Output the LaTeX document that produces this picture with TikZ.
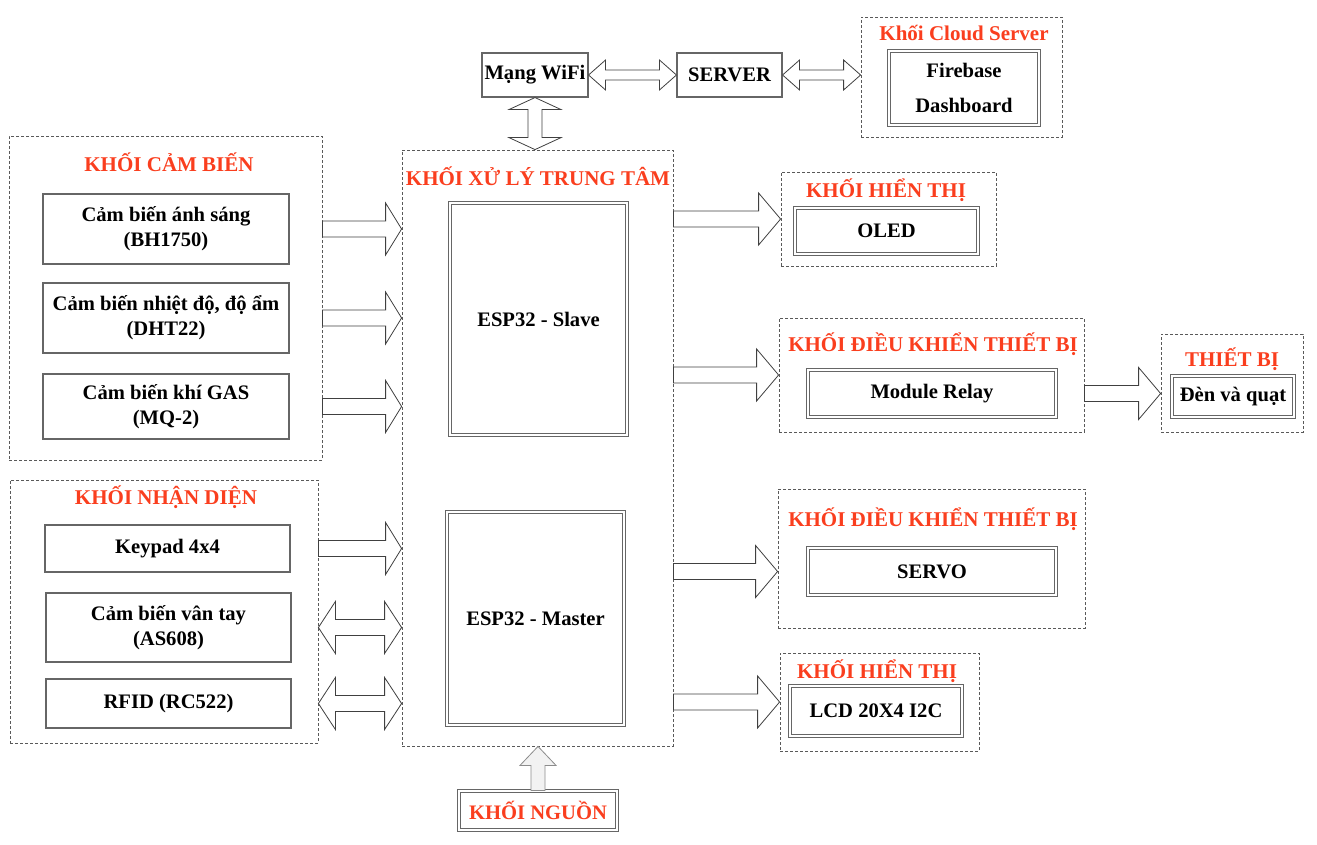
\documentclass[tikz,border=0pt]{standalone}
\usepackage{fontspec}
\setmainfont{Liberation Serif}
\usetikzlibrary{positioning,calc}
\definecolor{titlered}{RGB}{250,62,30}
\tikzset{block/.style={draw=black!65,dash pattern=on 3pt off 2pt,line width=0.8pt,inner sep=0pt}}
\tikzset{title/.style={text=titlered,font=\bfseries\fontsize{21}{25}\selectfont,inner sep=0pt}}
\tikzset{basic/.style={draw=black!60,line width=1.1pt,fill=white,inner sep=0pt,align=center,font=\bfseries\fontsize{20.6}{25}\selectfont}}
\tikzset{framed/.style={basic,draw=black!60,double,double distance=1.5pt,line width=1pt}}
\tikzset{fat/.style={draw=black!75,fill=white,line width=0.8pt}}
\tikzset{supply/.style={draw=black!45,fill=black!5,line width=0.8pt}}

% block arrows, #1 = head length
\newcommand{\fatarrow}[3][16pt]{\draw[fat] let \p1=#2, \p2=#3 in
  (\x1,\y1+8pt) -- (\x2-#1,\y1+8pt) -- (\x2-#1,\y1+26pt) -- (\x2,\y1)
  -- (\x2-#1,\y1-26pt) -- (\x2-#1,\y1-8pt) -- (\x1,\y1-8pt) -- cycle;}
% #1 head length, #2 head half width, #3 shaft half width
\newcommand{\fatboth}[5]{\draw[fat] let \p1=#4, \p2=#5 in
  (\x1,\y1) -- (\x1+#1,\y1+#2) -- (\x1+#1,\y1+#3) -- (\x2-#1,\y1+#3) -- (\x2-#1,\y1+#2) -- (\x2,\y1)
  -- (\x2-#1,\y1-#2) -- (\x2-#1,\y1-#3) -- (\x1+#1,\y1-#3) -- (\x1+#1,\y1-#2) -- cycle;}
\newcommand{\fatbothv}[5]{\draw[fat] let \p1=#4, \p2=#5 in
  (\x1,\y1) -- (\x1+#2,\y1-#1) -- (\x1+#3,\y1-#1) -- (\x1+#3,\y2+#1) -- (\x1+#2,\y2+#1) -- (\x1,\y2)
  -- (\x1-#2,\y2+#1) -- (\x1-#3,\y2+#1) -- (\x1-#3,\y1-#1) -- (\x1-#2,\y1-#1) -- cycle;}
\newcommand{\fatup}[2]{\draw[supply] let \p1=#1, \p2=#2 in
  (\x1-7pt,\y1) -- (\x1-7pt,\y2-19pt) -- (\x1-18pt,\y2-19pt) -- (\x1,\y2)
  -- (\x1+18pt,\y2-19pt) -- (\x1+7pt,\y2-19pt) -- (\x1+7pt,\y1) -- cycle;}

\begin{document}
\begin{tikzpicture}[x=1pt,y=-1pt]
    \useasboundingbox (0,0) rectangle (1317,845);
    % khoi cam bien
    \node[block,minimum width=313pt,minimum height=324pt] (sensors) at (165.5,298) {};
    \node[title] (sensorstitle) at (169,162) {KHỐI CẢM BIẾN};
    \node[basic,minimum width=246pt,minimum height=70pt] (bh) at (166,229) {Cảm biến ánh sáng\\(BH1750)};
    \node[basic,minimum width=246pt,minimum height=70pt] (dht) at (166,318) {Cảm biến nhiệt độ, độ ẩm\\(DHT22)};
    \node[basic,minimum width=246pt,minimum height=65pt] (mq) at (166,406.5) {Cảm biến khí GAS\\(MQ-2)};
    % khoi nhan dien
    \node[block,minimum width=308pt,minimum height=263pt] (ident) at (164,611.5) {};
    \node[title] (identtitle) at (166,497) {KHỐI NHẬN DIỆN};
    \node[basic,minimum width=245pt,minimum height=47pt] (keypad) at (167.5,548.5) {Keypad 4x4};
    \node[basic,minimum width=245pt,minimum height=69pt] (finger) at (168.5,627.5) {Cảm biến vân tay\\(AS608)};
    \node[basic,minimum width=245pt,minimum height=49pt] (rfid) at (168.5,703.5) {RFID (RC522)};
    % khoi xu ly
    \node[block,minimum width=271pt,minimum height=596pt] (central) at (537.5,448) {};
    \node[title] (centraltitle) at (538,176) {KHỐI XỬ LÝ TRUNG TÂM};
    \node[framed,minimum width=177pt,minimum height=232pt] (slave) at (538.5,319) {ESP32 - Slave};
    \node[framed,minimum width=177pt,minimum height=213pt] (master) at (535.5,618.5) {ESP32 - Master};
    % mang va server
    \node[basic,minimum width=106pt,minimum height=44pt] (wifi) at (535,75) {Mạng WiFi};
    \node[basic,minimum width=105pt,minimum height=44pt] (server) at (729.5,75) {SERVER};
    \node[block,minimum width=201pt,minimum height=120pt] (cloud) at (961.5,77) {};
    \node[title] (cloudtitle) at (964,33) {Khối Cloud Server};
    \node[framed,minimum width=150pt,minimum height=74pt,font=\bfseries\fontsize{20.6}{35}\selectfont] (firebase) at (964,88) {Firebase\\Dashboard};
    % khoi hien thi, dieu khien
    \node[block,minimum width=215pt,minimum height=94pt] (oledblk) at (888.5,219) {};
    \node[title] (oledtitle) at (886,190) {KHỐI HIỂN THỊ};
    \node[framed,minimum width=183pt,minimum height=46pt] (oled) at (886.5,231) {OLED};
    \node[block,minimum width=305pt,minimum height=114pt] (relayblk) at (931.5,375) {};
    \node[title] (relaytitle) at (933,344) {KHỐI ĐIỀU KHIỂN THIẾT BỊ};
    \node[framed,minimum width=248pt,minimum height=47pt] (relay) at (932,393.5) {Module Relay};
    \node[block,minimum width=142pt,minimum height=98pt] (devblk) at (1232,383) {};
    \node[title] (devtitle) at (1232,359) {THIẾT BỊ};
    \node[framed,minimum width=122pt,minimum height=41pt] (dev) at (1233,396.5) {Đèn và quạt};
    \node[block,minimum width=307pt,minimum height=139pt] (servoblk) at (931.5,558.5) {};
    \node[title] (servotitle) at (933,519) {KHỐI ĐIỀU KHIỂN THIẾT BỊ};
    \node[framed,minimum width=248pt,minimum height=47pt] (servo) at (932,571.5) {SERVO};
    \node[block,minimum width=199pt,minimum height=98pt] (lcdblk) at (879.5,702) {};
    \node[title] (lcdtitle) at (877,671) {KHỐI HIỂN THỊ};
    \node[framed,minimum width=172pt,minimum height=50pt] (lcd) at (876,711) {LCD 20X4 I2C};
    % khoi nguon
    \node[framed,minimum width=158pt,minimum height=39pt,text=titlered] (power) at (538,810.5) {KHỐI NGUỒN};
    % inputs
    \fatarrow{(sensors.east |- bh)}{(central.west |- bh)}
    \fatarrow{(sensors.east |- dht)}{(central.west |- dht)}
    \fatarrow{(sensors.east |- mq)}{(central.west |- mq)}
    \fatarrow{(ident.east |- keypad)}{(central.west |- keypad)}
    \fatboth{17pt}{26pt}{8pt}{(ident.east |- finger)}{(central.west |- finger)}
    \fatboth{17pt}{26pt}{8pt}{(ident.east |- rfid)}{(central.west |- rfid)}
    % outputs
    \fatarrow[22pt]{(central.east |- oledblk)}{(oledblk.west)}
    \fatarrow[22pt]{(central.east |- relayblk)}{(relayblk.west)}
    \fatarrow[22pt]{(relayblk.east |- relay)}{(devblk.west |- relay)}
    \fatarrow[22pt]{(central.east |- servo)}{(servoblk.west |- servo)}
    \fatarrow[22pt]{(central.east |- lcdblk)}{(lcdblk.west)}
    % network
    \fatboth{17pt}{15pt}{5pt}{(wifi.east)}{(server.west)}
    \fatboth{17pt}{15pt}{5pt}{(server.east)}{(cloud.west |- server)}
    \fatbothv{12pt}{26pt}{7pt}{(wifi.south)}{(central.north -| wifi)}
    \fatup{(power.north)}{(central.south -| power)}
\end{tikzpicture}
\end{document}
